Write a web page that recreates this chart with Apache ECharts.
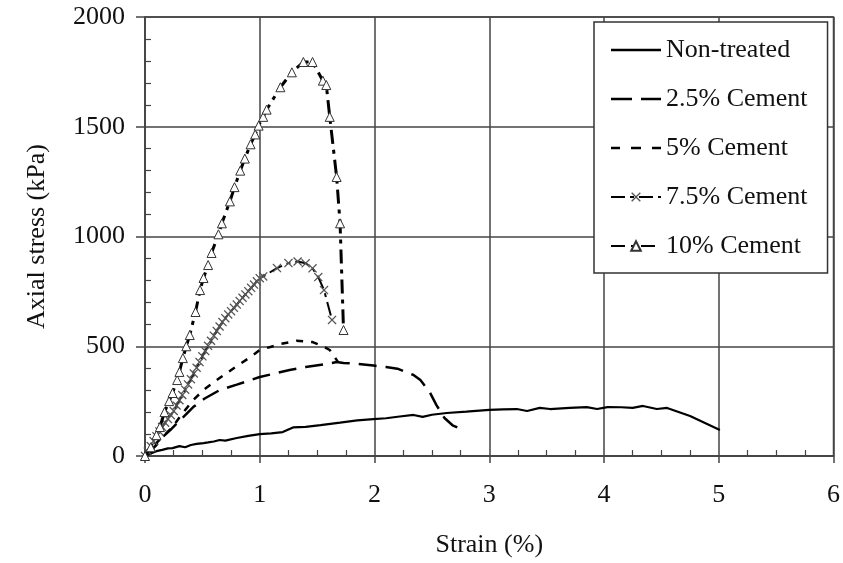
<!DOCTYPE html>
<html>
<head>
<meta charset="utf-8">
<title>Axial stress vs strain</title>
<script src="https://cdn.jsdelivr.net/npm/echarts@6/dist/echarts.min.js"></script>
<style>
  html, body { margin: 0; padding: 0; background: #fff; }
  #main { width: 843px; height: 563px; }
</style>
</head>
<body>
<div id="main"></div>
<script>
// [strain %, axial stress kPa]
var nonTreated = [
  [0, 0], [0.05, 12], [0.1, 22], [0.15, 28], [0.2, 35], [0.24, 36], [0.3, 45], [0.35, 40],
  [0.4, 50], [0.45, 55], [0.51, 59], [0.55, 62], [0.6, 66], [0.65, 73], [0.7, 70], [0.8, 82],
  [0.9, 92], [1.0, 100], [1.1, 103], [1.2, 109], [1.29, 130], [1.4, 133], [1.53, 141],
  [1.7, 152], [1.85, 162], [1.99, 168], [2.1, 172], [2.22, 180], [2.34, 187], [2.42, 178],
  [2.5, 188], [2.63, 196], [2.8, 202], [3.0, 210], [3.12, 212], [3.24, 214], [3.33, 205],
  [3.44, 219], [3.53, 214], [3.7, 219], [3.85, 223], [3.94, 214], [4.03, 223], [4.15, 222],
  [4.25, 219], [4.34, 228], [4.46, 214], [4.55, 219], [4.75, 182], [5.01, 118]
];
var cement25 = [
  [0, 0], [0.05, 25], [0.1, 50], [0.15, 85], [0.22, 118], [0.3, 160], [0.42, 223], [0.52, 262],
  [0.65, 300], [0.8, 325], [0.92, 346], [1.0, 360], [1.1, 372], [1.26, 392], [1.4, 405],
  [1.58, 419], [1.67, 428], [1.73, 424], [1.85, 420], [1.99, 412], [2.1, 405], [2.2, 398],
  [2.34, 369], [2.4, 346], [2.48, 292], [2.54, 232], [2.61, 173], [2.68, 140], [2.75, 123]
];
var cement5 = [
  [0, 0], [0.05, 30], [0.1, 60], [0.17, 95], [0.24, 132], [0.32, 190], [0.42, 255], [0.52, 305],
  [0.65, 355], [0.8, 410], [0.92, 451], [1.0, 483], [1.1, 498], [1.18, 510], [1.32, 525],
  [1.46, 519], [1.55, 500], [1.61, 483], [1.68, 430]
];
var cement75 = [
  [0, 0], [0.025, 20], [0.05, 45], [0.075, 68], [0.1, 90], [0.125, 112], [0.15, 132],
  [0.175, 152], [0.2, 168], [0.225, 186], [0.25, 205], [0.275, 230], [0.3, 254], [0.325, 278],
  [0.35, 302], [0.375, 326], [0.4, 350], [0.425, 376], [0.45, 402], [0.475, 428], [0.5, 454],
  [0.525, 478], [0.55, 502], [0.575, 525], [0.6, 548], [0.625, 570], [0.65, 590], [0.675, 610],
  [0.7, 628], [0.725, 645], [0.75, 660], [0.775, 675], [0.8, 690], [0.825, 706], [0.85, 721],
  [0.875, 736], [0.9, 751], [0.925, 766], [0.95, 781], [0.975, 796], [1.0, 810], [1.03, 818],
  [1.15, 856], [1.25, 879], [1.33, 886], [1.4, 878], [1.46, 855], [1.51, 815], [1.56, 756],
  [1.63, 620]
];
var cement10 = [
  [0, 0], [0.05, 40], [0.1, 95], [0.13, 132], [0.17, 200], [0.21, 250], [0.24, 287], [0.28, 346],
  [0.3, 383], [0.33, 446], [0.36, 500], [0.39, 551], [0.44, 656], [0.48, 756], [0.51, 811],
  [0.55, 870], [0.58, 925], [0.64, 1010], [0.67, 1060], [0.74, 1160], [0.78, 1225], [0.83, 1300],
  [0.87, 1355], [0.92, 1420], [0.96, 1465], [0.99, 1505], [1.03, 1545], [1.06, 1578],
  [1.18, 1680], [1.28, 1748], [1.38, 1795], [1.46, 1795], [1.55, 1710], [1.58, 1690],
  [1.61, 1545], [1.67, 1271], [1.7, 1060], [1.73, 574]
];
var seriesNames = ['Non-treated', '2.5% Cement', '5% Cement', '7.5% Cement', '10% Cement'];

var FONT = "'Liberation Serif', 'Times New Roman', serif";
var crossPath = 'path://M0,1L1,0L5,4L9,0L10,1L6,5L10,9L9,10L5,6L1,10L0,9L4,5Z';

// legend icons for the plain lines (solid, long dash, short dash)
var iconSolid = 'path://M0,0H50V2.6H0Z';
var iconLongDash = 'path://M0,0H21V2.6H0Z M30,0H50V2.6H30Z';
var iconShortDash = 'path://M0,0H9V2.6H0Z M20,0H30V2.6H20Z M41,0H50V2.6H41Z';

var chart = echarts.init(document.getElementById('main'), null, { renderer: 'canvas' });

var option = {
  animation: false,
  backgroundColor: '#fff',
  textStyle: { fontFamily: FONT, color: '#111' },
  grid: {
    left: 145, right: 9, top: 17, bottom: 107,
    show: true, borderColor: '#444', borderWidth: 1.5
  },
  legend: {
    orient: 'vertical',
    left: 594, top: 22,
    data: [
      { name: seriesNames[0], icon: iconSolid },
      { name: seriesNames[1], icon: iconLongDash },
      { name: seriesNames[2], icon: iconShortDash },
      { name: seriesNames[3] },
      { name: seriesNames[4] }
    ],
    itemWidth: 50, itemHeight: 12,
    itemGap: 23,
    padding: [15, 20, 14, 16],
    backgroundColor: '#fff',
    borderColor: '#333', borderWidth: 1.5,
    textStyle: { fontFamily: FONT, fontSize: 26, color: '#111', lineHeight: 26 }
  },
  xAxis: [{
    type: 'value', min: 0, max: 6, interval: 1,
    name: 'Strain (%)', nameLocation: 'middle', nameGap: 76,
    nameTextStyle: { fontFamily: FONT, fontSize: 26, color: '#111' },
    axisLine: { lineStyle: { color: '#444', width: 1.5 } },
    axisTick: { show: true, length: 7, lineStyle: { color: '#444', width: 1.5 } },
    axisLabel: { fontFamily: FONT, fontSize: 26, color: '#111', margin: 26 },
    splitLine: { show: true, lineStyle: { color: '#444', width: 1.5 } }
  }, {
    type: 'value', min: 0, max: 6, interval: 1, position: 'bottom',
    axisLine: { show: false },
    axisTick: { show: false, inside: true },
    axisLabel: { show: false },
    splitLine: { show: false },
    minorTick: { show: true, splitNumber: 4, length: 6, lineStyle: { color: '#444', width: 1.2 } }
  }],
  yAxis: [{
    type: 'value', min: 0, max: 2000, interval: 500,
    name: 'Axial stress (kPa)', nameLocation: 'middle', nameGap: 95,
    nameTextStyle: { fontFamily: FONT, fontSize: 26, color: '#111' },
    axisLine: { show: true, lineStyle: { color: '#444', width: 1.5 } },
    axisTick: { show: true, length: 9, lineStyle: { color: '#444', width: 1.5 } },
    axisLabel: {
      fontFamily: FONT, fontSize: 26, color: '#111', margin: 20,
      formatter: function (v) { return String(v); }
    },
    splitLine: { show: true, lineStyle: { color: '#444', width: 1.5 } }
  }, {
    type: 'value', min: 0, max: 2000, interval: 500, position: 'left',
    axisLine: { show: false },
    axisTick: { show: false, inside: true },
    axisLabel: { show: false },
    splitLine: { show: false },
    minorTick: { show: true, splitNumber: 5, length: 6, lineStyle: { color: '#444', width: 1.2 } }
  }],
  series: [{
    name: seriesNames[0], type: 'line', data: nonTreated,
    symbol: 'none', z: 3,
    lineStyle: { color: '#000', width: 2.2, type: 'solid' },
    itemStyle: { color: '#000' }
  }, {
    name: seriesNames[1], type: 'line', data: cement25,
    symbol: 'none', z: 3,
    lineStyle: { color: '#000', width: 2.5, type: [18, 9] },
    itemStyle: { color: '#000' }
  }, {
    name: seriesNames[2], type: 'line', data: cement5,
    symbol: 'none', z: 3,
    lineStyle: { color: '#000', width: 2.5, type: [7, 8] },
    itemStyle: { color: '#000' }
  }, {
    name: seriesNames[3], type: 'line', data: cement75,
    symbol: crossPath, symbolSize: 9, z: 4,
    lineStyle: { color: '#000', width: 2, type: [14, 5, 4, 5] },
    itemStyle: { color: '#555' }
  }, {
    name: seriesNames[4], type: 'line', data: cement10,
    symbol: 'triangle', symbolSize: 9, z: 5,
    lineStyle: { color: '#000', width: 3, type: [14, 6, 4, 6] },
    itemStyle: { color: '#fff', borderColor: '#333', borderWidth: 1 }
  }]
};

chart.setOption(option);
</script>
</body>
</html>
